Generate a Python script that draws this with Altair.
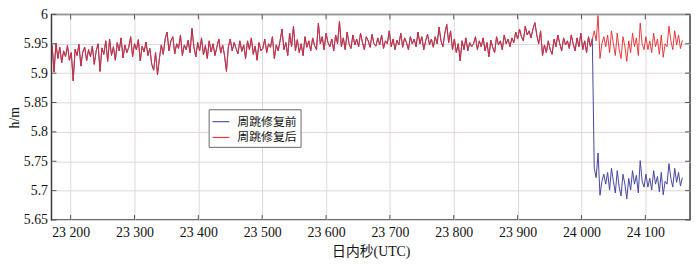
import altair as alt
import pandas as pd

# ---- data ----
t_start = 23171          # first epoch, seconds of day (UTC)
t_step = 3               # sampling used for the reconstruction

# h after cycle-slip repair (red)
h_after = [
    5.948, 5.902, 5.951, 5.925, 5.944, 5.918, 5.938, 5.928, 5.947, 5.922,
    5.935, 5.887, 5.941, 5.930, 5.949, 5.912, 5.936, 5.944, 5.921, 5.940,
    5.928, 5.946, 5.915, 5.938, 5.950, 5.903, 5.943, 5.932, 5.955, 5.920,
    5.958, 5.930, 5.945, 5.922, 5.952, 5.938, 5.960, 5.926, 5.948, 5.935,
    5.944, 5.962, 5.928, 5.950, 5.940, 5.957, 5.921, 5.946, 5.936, 5.953,
    5.930, 5.942, 5.915, 5.905, 5.935, 5.897, 5.925, 5.948, 5.932, 5.958,
    5.970, 5.938, 5.955, 5.962, 5.933, 5.950, 5.942, 5.965, 5.930, 5.948,
    5.940, 5.956, 5.935, 5.976, 5.945, 5.928, 5.952, 5.938, 5.960, 5.931,
    5.947, 5.925, 5.955, 5.936, 5.950, 5.930, 5.944, 5.958, 5.934, 5.948,
    5.930, 5.903, 5.945, 5.958, 5.938, 5.952, 5.942, 5.933, 5.955, 5.937,
    5.948, 5.925, 5.955, 5.940, 5.960, 5.932, 5.946, 5.922, 5.952, 5.938,
    5.942, 5.958, 5.935, 5.950, 5.944, 5.962, 5.925, 5.948, 5.938, 5.955,
    5.975, 5.940, 5.952, 5.930, 5.968, 5.945, 5.980, 5.938, 5.957, 5.935,
    5.950, 5.930, 5.962, 5.944, 5.955, 5.938, 5.960, 5.947, 5.940, 5.985,
    5.950, 5.962, 5.940, 5.968, 5.952, 5.945, 5.958, 5.938, 5.965, 5.950,
    5.988, 5.945, 5.960, 5.940, 5.970, 5.950, 5.942, 5.965, 5.948, 5.958,
    5.945, 5.968, 5.952, 5.940, 5.962, 5.955, 5.944, 5.966, 5.950, 5.946,
    5.960, 5.948, 5.965, 5.942, 5.955, 5.950, 5.972, 5.945, 5.958, 5.940,
    5.956, 5.948, 5.968, 5.944, 5.960, 5.952, 5.940, 5.962, 5.950, 5.958,
    5.945, 5.970, 5.950, 5.962, 5.940, 5.955, 5.966, 5.948, 5.958, 5.944,
    5.962, 5.950, 5.978, 5.955, 5.945, 5.968, 5.983, 5.952, 5.972, 5.940,
    5.958, 5.935, 5.950, 5.921, 5.955, 5.940, 5.960, 5.938, 5.952, 5.945,
    5.950, 5.962, 5.940, 5.955, 5.945, 5.960, 5.938, 5.952, 5.928, 5.956,
    5.944, 5.935, 5.962, 5.948, 5.955, 5.940, 5.965, 5.950, 5.958, 5.945,
    5.960, 5.952, 5.970, 5.958, 5.975, 5.962, 5.955, 5.980, 5.965, 5.972,
    5.960, 5.975, 5.986, 5.965, 5.950, 5.972, 5.930, 5.948, 5.935, 5.955,
    5.940, 5.932, 5.958, 5.945, 5.965, 5.950, 5.938, 5.960, 5.948, 5.955,
    5.942, 5.965, 5.950, 5.938, 5.960, 5.945, 5.968, 5.940, 5.955, 5.935,
    5.962, 5.945, 5.958, 5.972, 5.955, 5.998, 5.925, 5.950, 5.962, 5.945,
    5.965, 5.935, 5.972, 5.950, 5.930, 5.968, 5.940, 5.925, 5.962, 5.945,
    5.920, 5.955, 5.935, 5.968, 5.945, 5.960, 5.930, 5.985, 5.950, 5.940,
    5.962, 5.940, 5.955, 5.935, 5.968, 5.945, 5.958, 5.932, 5.965, 5.927,
    5.950, 5.945, 5.980, 5.955, 5.940, 5.972, 5.948, 5.965, 5.942, 5.956,
]

# h before repair (blue): same as above until the slip, then biased
slip_index = 283
h_before_tail = [
    5.738, 5.722, 5.764, 5.692, 5.716, 5.728, 5.711,
    5.731, 5.701, 5.738, 5.716, 5.696, 5.734, 5.706, 5.691, 5.728, 5.711,
    5.686, 5.721, 5.701, 5.734, 5.711, 5.726, 5.696, 5.751, 5.716, 5.706,
    5.728, 5.706, 5.721, 5.701, 5.734, 5.711, 5.724, 5.698, 5.731, 5.693,
    5.716, 5.711, 5.746, 5.721, 5.706, 5.738, 5.714, 5.731, 5.708, 5.722,
]
h_before = h_after[:slip_index] + h_before_tail

series_names = ["周跳修复前", "周跳修复后"]
series_colors = ["#45459f", "#e42a2e"]

x_ticks = [23200, 23300, 23400, 23500, 23600, 23700, 23800, 23900, 24000, 24100]
y_ticks = [5.65, 5.7, 5.75, 5.8, 5.85, 5.9, 5.95, 6.0]
x_domain = [23170, 24170]
y_domain = [5.65, 6.0]

times = [t_start + t_step * i for i in range(len(h_after))]
df = pd.DataFrame({
    "t": times * 2,
    "h": h_before + h_after,
    "series": [series_names[0]] * len(times) + [series_names[1]] * len(times),
})
xt = pd.DataFrame({"t": x_ticks})
yt = pd.DataFrame({"h": y_ticks})

W, H = 646, 208
SERIF = "Liberation Serif, DejaVu Serif, serif"
CJK = "Liberation Serif, Noto Sans CJK SC"

xscale = alt.Scale(domain=x_domain, nice=False, zero=False)
yscale = alt.Scale(domain=y_domain, nice=False, zero=False)

x_axis = alt.Axis(values=x_ticks, labelExpr="replace(format(datum.value, ','), ',', ' ')",
                  grid=True, gridColor="#e0d8d8", gridWidth=1, labelOverlap=False,
                  ticks=False, domain=False, labelFont=SERIF, labelFontSize=14,
                  labelColor="#111", labelPadding=6,
                  titleFont=CJK, titleFontSize=14, titleFontWeight="normal",
                  titleColor="#111", titlePadding=5)
y_axis = alt.Axis(values=y_ticks, format="~g", labelOverlap=False,
                  grid=True, gridColor="#e0d8d8", gridWidth=1,
                  ticks=False, domain=False, labelFont=SERIF, labelFontSize=14,
                  labelColor="#111", labelPadding=4,
                  titleFont=SERIF, titleFontSize=14, titleFontWeight="normal",
                  titleColor="#111", titleX=-30)

xenc = alt.X("t:Q", scale=xscale, title="日内秒(UTC)", axis=x_axis)
yenc = alt.Y("h:Q", scale=yscale, title="h/m", axis=y_axis)

color = alt.Color("series:N", scale=alt.Scale(domain=series_names, range=series_colors),
                  legend=alt.Legend(title=None, orient="none", legendX=159, legendY=96,
                                    fillColor="white", strokeColor="#666", padding=3,
                                    symbolType="stroke", symbolSize=289, symbolStrokeWidth=1.2,
                                    labelFont=CJK, labelFontSize=12, labelColor="#111",
                                    rowPadding=0, labelOffset=7))

base = alt.Chart(df)
blue = base.transform_filter(alt.datum.series == series_names[0]).mark_line(
    strokeWidth=1, clip=True).encode(x=xenc, y=yenc, color=color)
red = base.transform_filter(alt.datum.series == series_names[1]).mark_line(
    strokeWidth=1, clip=True, opacity=0.92).encode(x=xenc, y=yenc, color=color)

tick_col = "#555555"
tk = 5
xt_bottom = alt.Chart(xt).mark_rule(color=tick_col, strokeWidth=1).encode(
    x=xenc, y=alt.value(H), y2=alt.value(H - tk))
xt_top = alt.Chart(xt).mark_rule(color=tick_col, strokeWidth=1).encode(
    x=xenc, y=alt.value(0), y2=alt.value(tk))
yt_left = alt.Chart(yt).mark_rule(color=tick_col, strokeWidth=1).encode(
    y=yenc, x=alt.value(0), x2=alt.value(tk))
yt_right = alt.Chart(yt).mark_rule(color=tick_col, strokeWidth=1).encode(
    y=yenc, x=alt.value(W), x2=alt.value(W - tk))

chart = alt.layer(blue, red, xt_bottom, xt_top, yt_left, yt_right).properties(
    width=W, height=H,
    autosize=alt.AutoSizeParams(type="none"),
    padding={"left": 44, "top": 5, "right": 2, "bottom": 39},
    background="white",
).configure_view(stroke="#3a3a3a", strokeWidth=1.5)

chart.save("out.html", embed_options={"renderer": "svg", "actions": False})
